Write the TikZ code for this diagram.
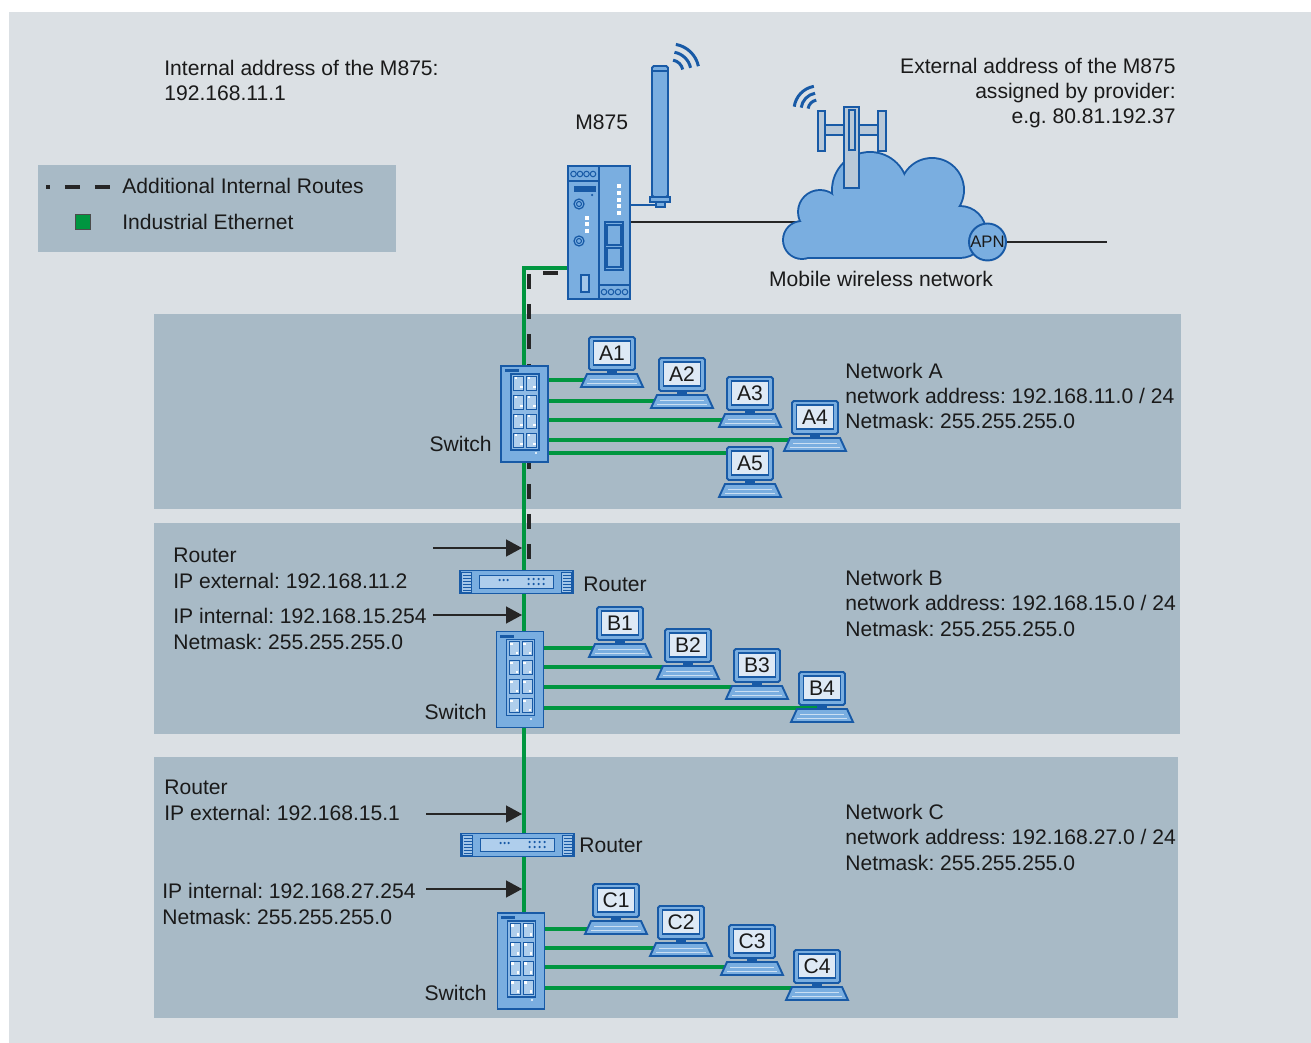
\documentclass[tikz,border=0pt]{standalone}
\usepackage{fontspec}
\setmainfont{Liberation Sans}
\usetikzlibrary{arrows.meta,backgrounds}
\frenchspacing

\definecolor{bglight}{RGB}{219,224,228}
\definecolor{netpanel}{RGB}{168,186,198}
\definecolor{devfill}{RGB}{122,174,224}
\definecolor{devline}{RGB}{24,90,166}
\definecolor{iegreen}{RGB}{0,150,64}
\definecolor{screenfill}{RGB}{222,233,245}
\definecolor{mastfill}{RGB}{184,200,216}
\definecolor{txt}{RGB}{26,26,26}

% PC: monitor with name plate, neck and keyboard
\newcommand{\pcicon}[2]{%
  \begin{scope}[shift={(#2)}]
    \draw[dev, rounded corners=1pt] (-23,0) rectangle (23,33);
    \fill[devline] (-5,33) rectangle (5,37);
    \draw[dev] (-25,37) -- (25,37) -- (31,50) -- (-31,50) -- cycle;
    \draw[keys] (-22,42) -- (22,42) (-25,46) -- (25,46);
    \node[pclabel] (#1) at (0,16) {#1};
  \end{scope}}

% switch: housing with four rows of ports
\newcommand{\switchicon}[2]{%
  \node[swbox] (#1) at (#2) {};
  \begin{scope}[shift={(#2)}]
    \fill[devline] (-20,-45) rectangle (-6,-42);
    \draw[portblock] (-13.5,-40) rectangle (14.5,36);
    \foreach \r in {0,...,3} {
      \draw[port] (-11,-38+19*\r) rectangle (-1,-24+19*\r);
      \draw[port] (2,-38+19*\r) rectangle (12,-24+19*\r);
      \fill[white] (-10,-37+19*\r) rectangle (-7.5,-34.5+19*\r);
      \fill[white] (-4.5,-28+19*\r) rectangle (-2,-25.5+19*\r);
      \fill[white] (3,-37+19*\r) rectangle (5.5,-34.5+19*\r);
      \fill[white] (8.5,-28+19*\r) rectangle (11,-25.5+19*\r);
    }
    \fill[white!70!devfill] (10,38) rectangle (12,40);
  \end{scope}}

% router: flat box with grills on both ends
\newcommand{\routericon}[2]{%
  \node[rtbox] (#1) at (#2) {};
  \begin{scope}[shift={(#2)}]
    \draw[grill] (-55,-10) rectangle (-45,10);
    \draw[grill] (45,-10) rectangle (55,10);
    \foreach \g in {-7,-4,...,8} {
      \draw[devline, line width=0.4pt] (-54,\g) -- (-46,\g);
      \draw[devline, line width=0.4pt] (46,\g) -- (54,\g);
    }
    \draw[port] (-37,-7) rectangle (37,6);
    \foreach \d in {-17,-13,-9} \fill[devline] (\d,-2) circle[radius=0.025cm];
    \foreach \d in {12,17,22,27} {
      \fill[devline] (\d,-3) circle[radius=0.025cm];
      \fill[devline] (\d,2) circle[radius=0.025cm];
    }
  \end{scope}}

\begin{document}
\begin{tikzpicture}[x=0.02cm, y=-0.02cm,
  font=\fontsize{12}{14.5}\selectfont, text=txt,
  every node/.style={inner sep=0pt},
  txtl/.style={anchor=base west, align=left},
  dev/.style={draw=devline, fill=devfill, line width=1.1pt},
  swbox/.style={dev, minimum width=0.94cm, minimum height=1.92cm},
  rtbox/.style={dev, minimum width=2.26cm, minimum height=0.46cm},
  pclabel/.style={draw=devline, fill=screenfill, line width=0.6pt, minimum width=0.74cm, minimum height=0.48cm},
  portblock/.style={draw=devline, fill=devfill!85!white, line width=0.6pt},
  port/.style={draw=devline, fill=devfill!60!white, line width=0.5pt},
  grill/.style={draw=devline, fill=devfill!70!white, line width=0.5pt},
  keys/.style={draw=devfill!40!white, line width=0.4pt},
  mast/.style={draw=devline, fill=mastfill, line width=0.9pt},
  ie/.style={draw=iegreen, line width=2.3pt},
  route/.style={draw=black!85, line width=2.2pt, dash pattern=on 0.3cm off 0.3cm, dash phase=0.42cm},
  ptr/.style={draw=black!85, line width=0.8pt, shorten >=0.04cm, -{Triangle[length=0.32cm, width=0.34cm]}},
  wave/.style={draw=devline, line width=1.7pt},
  link/.style={draw=black!85, line width=0.9pt}
]
\useasboundingbox (0,0) rectangle (1311,1043);

% --- M875 with antenna ---
\node[dev, minimum width=0.62cm, minimum height=2.66cm] (m875L) at (583.5,232.5) {};
\node[dev, minimum width=0.62cm, minimum height=2.66cm] (m875R) at (614.5,232.5) {};
\draw[dev] (568,166) rectangle (599,181);
\foreach \cx in {573.5,580,586.5,593}
  \draw[devline, line width=0.6pt] (\cx,174) circle[radius=0.055cm];
\fill[devline] (574,186) rectangle (596,192);
\fill[devline] (592,195) circle[radius=0.025cm];
\foreach \ny in {204,241} {
  \draw[devline, line width=0.7pt] (579,\ny) circle[radius=0.1cm];
  \draw[devline, line width=0.6pt] (579,\ny) circle[radius=0.05cm];
}
\foreach \sy in {216,222,229} \fill[white] (585,\sy) rectangle (589,\sy+4);
\draw[devline, fill=devfill!70!white, line width=0.7pt] (581,275) rectangle (589,292);
\draw[dev] (599,285) rectangle (630,299);
\foreach \cx in {604,611,618,625}
  \draw[devline, line width=0.6pt] (\cx,292) circle[radius=0.055cm];
\foreach \sy in {184,191,198,204,211} \fill[white] (617,\sy) rectangle (621,\sy+4);
\draw[devline, line width=0.7pt] (605,222) rectangle (623,270);
\draw[devline, line width=0.7pt] (607,225) rectangle (621,245);
\draw[devline, line width=0.7pt] (607,248) rectangle (621,267);

\draw[devline, line width=1.1pt] (m875R.east |- 0,205) -- (656,205);
\draw[dev] (656,202) rectangle (665,207);
\draw[dev] (650,197) rectangle (670,202);
\draw[dev, rounded corners=1pt] (652,66) rectangle (668,197);
\draw[devline, line width=0.6pt] (653,71) -- (667,71);
\foreach \r in {0.24,0.4,0.56}
  \draw[wave] (671,72) ++(12:\r cm) arc[start angle=12, end angle=80, radius=\r cm];
\node[txtl] (m875) at (575,130) {M875};

% --- mobile wireless network ---
\coordinate (cloudW) at (803,222);
\coordinate (isp) at (1107,242);
\foreach \c/\r in {{802,240}/0.36, {820,212}/0.42, {870,190}/0.74, {932,190}/0.62, {960,232}/0.5}
  \draw[devline, line width=2.2pt] (\c) circle[radius=\r cm];
\draw[devline, line width=2.2pt] (802,257) -- (960,257);
\foreach \c/\r in {{802,240}/0.36, {820,212}/0.42, {870,190}/0.74, {932,190}/0.62, {960,232}/0.5}
  \fill[devfill] (\c) circle[radius=\r cm];
\fill[devfill] (805,215) -- (900,195) -- (950,205) -- (960,257) -- (802,257) -- cycle;

\draw[mast] (818,111) rectangle (825,151);
\draw[mast] (878,111) rectangle (886,151);
\draw[mast] (825,125) rectangle (844,135);
\draw[mast] (859,125) rectangle (878,135);
\draw[mast] (844,107) rectangle (859,188);
\draw[mast] (849,110) rectangle (855,150);
\foreach \r in {0.2,0.34,0.48}
  \draw[wave] (818,110) ++(100:\r cm) arc[start angle=100, end angle=172, radius=\r cm];

\node[dev, circle, minimum size=0.74cm, font=\fontsize{9.5}{11}\selectfont] (apn) at (987.5,242) {APN};
\node[anchor=base] (mobnet) at (881,287) {Mobile wireless network};

% --- address notes (base = last line) ---
\node[txtl] (intaddr) at (164,101) {Internal address of the M875:\\192.168.11.1};
\node[anchor=base east, align=right] (extaddr) at (1176,124)
  {External address of the M875\\assigned by provider:\\e.g. 80.81.192.37};

% --- legend ---
\node[txtl] (lgroute) at (122,194) {Additional Internal Routes};
\node[txtl] (lgie) at (122,230) {Industrial Ethernet};
\node[draw=black!70, fill=iegreen, line width=0.5pt, minimum size=0.31cm] (lgbox) at (83,222) {};

% --- network devices ---
\switchicon{swA}{524.5,414}
\switchicon{swB}{520,679.5}
\switchicon{swC}{521,961}
\routericon{rtB}{516.5,582}
\routericon{rtC}{517.5,845}

\pcicon{A1}{612,337}
\pcicon{A2}{682,358}
\pcicon{A3}{750,377}
\pcicon{A4}{815,401}
\pcicon{A5}{750,447}
\pcicon{B1}{620,607}
\pcicon{B2}{688,629}
\pcicon{B3}{757,649}
\pcicon{B4}{822,672}
\pcicon{C1}{616,884}
\pcicon{C2}{681,906}
\pcicon{C3}{752,925}
\pcicon{C4}{817,950}

\node[anchor=base east] (swAlbl) at (492,452) {Switch};
\node[anchor=base east] (swBlbl) at (487,719) {Switch};
\node[anchor=base east] (swClbl) at (487,1000) {Switch};
\node[txtl] (rtBlbl) at (583,591) {Router};
\node[txtl] (rtClbl) at (579,852) {Router};

% --- network texts ---
\node[txtl] (netA) at (845,429) {Network A\\network address: 192.168.11.0 / 24\\Netmask: 255.255.255.0};
\node[txtl] (netB) at (845,636) {Network B\\network address: 192.168.15.0 / 24\\Netmask: 255.255.255.0};
\node[txtl] (netC) at (845,870) {Network C\\network address: 192.168.27.0 / 24\\Netmask: 255.255.255.0};

\node[txtl] (rtBext) at (173,588) {Router\\IP external: 192.168.11.2};
\node[txtl] (rtBint) at (173,649) {IP internal: 192.168.15.254\\Netmask: 255.255.255.0};
\node[txtl] (rtCext) at (164,820) {Router\\IP external: 192.168.15.1};
\node[txtl] (rtCint) at (162,924) {IP internal: 192.168.27.254\\Netmask: 255.255.255.0};

% --- pointers to the router ports ---
\coordinate (bus) at (524,268);
\coordinate (tBext) at (433,548);
\coordinate (tBint) at (433,615);
\coordinate (tCext) at (426,814);
\coordinate (tCint) at (426,889);
\draw[ptr] (tBext) -- (tBext -| bus);
\draw[ptr] (tBint) -- (tBint -| bus);
\draw[ptr] (tCext) -- (tCext -| bus);
\draw[ptr] (tCint) -- (tCint -| bus);

\begin{scope}[on background layer]
  \fill[white] (0,0) rectangle (1311,1043);
  \fill[bglight] (9,12) rectangle (1311,1043);
  \fill[netpanel] (154,314) rectangle (1181,509);
  \fill[netpanel] (154,523) rectangle (1180,734);
  \fill[netpanel] (154,757) rectangle (1178,1018);
  \fill[netpanel] (38,165) rectangle (396,252);

  \draw[route, dash phase=0.22cm] (46,187) -- (110,187);

  % uplinks
  \draw[link] (m875R.east |- cloudW) -- (cloudW);
  \draw[link] (apn.east) -- (isp);
  \draw[ie] (m875L.west |- bus) -- (bus) -- (bus |- swC.center);
  \draw[route] (m875L.west |- 0,273) -- (529,273) -- (529,571);

  % Industrial Ethernet to the PCs
  \draw[ie] (swA.east |- 0,380) -- (A1.center |- 0,380);
  \draw[ie] (swA.east |- 0,401) -- (A2.center |- 0,401);
  \draw[ie] (swA.east |- 0,420) -- (A3.center |- 0,420);
  \draw[ie] (swA.east |- 0,440) -- (A4.center |- 0,440);
  \draw[ie] (swA.east |- 0,453) -- (A5.center |- 0,453);
  \draw[ie] (swB.east |- 0,648) -- (B1.center |- 0,648);
  \draw[ie] (swB.east |- 0,667) -- (B2.center |- 0,667);
  \draw[ie] (swB.east |- 0,687) -- (B3.center |- 0,687);
  \draw[ie] (swB.east |- 0,708) -- (B4.center |- 0,708);
  \draw[ie] (swC.east |- 0,929) -- (C1.center |- 0,929);
  \draw[ie] (swC.east |- 0,948) -- (C2.center |- 0,948);
  \draw[ie] (swC.east |- 0,967) -- (C3.center |- 0,967);
  \draw[ie] (swC.east |- 0,988) -- (C4.center |- 0,988);
\end{scope}
\end{tikzpicture}
\end{document}
